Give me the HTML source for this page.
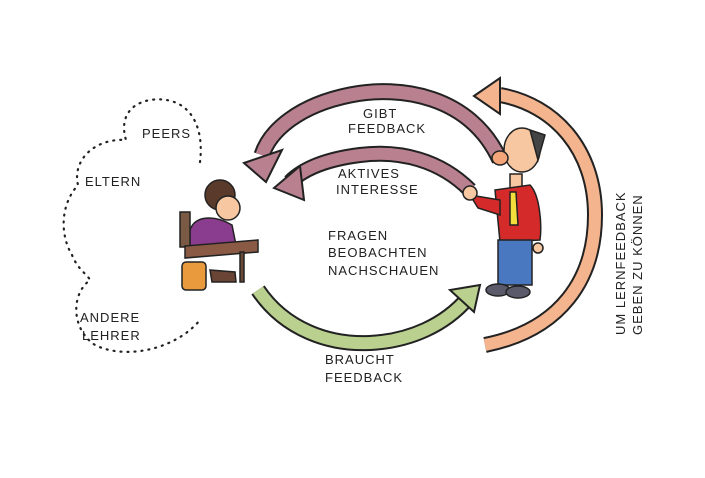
<!DOCTYPE html>
<html><head><meta charset="utf-8"><style>
html,body{margin:0;padding:0;background:#fff;}
svg{display:block;}
text{font-family:"Liberation Sans",sans-serif;font-size:13px;fill:#222;letter-spacing:1px;}
</style></head><body>
<svg width="705" height="478" viewBox="0 0 705 478" xmlns="http://www.w3.org/2000/svg">
<rect width="705" height="478" fill="#fff"/>
<!-- dotted cloud -->
<path d="M200,162 C205,120 185,95 150,100 C128,104 120,120 126,140 C95,138 72,160 78,185 C60,205 60,235 72,255 C78,270 88,275 90,280 C70,295 72,330 95,345 C125,360 175,350 200,320" fill="none" stroke="#222" stroke-width="2.2" stroke-dasharray="1 6" stroke-linecap="round"/>
<!-- pink big arrow -->
<path d="M500,160 C470,95 400,85 350,95 C300,105 270,130 262,155" fill="none" stroke="#222" stroke-width="17"/>
<path d="M500,160 C470,95 400,85 350,95 C300,105 270,130 262,155" fill="none" stroke="#b9818f" stroke-width="13"/>
<polygon points="244,163 282,150 266,182" fill="#b9818f" stroke="#222" stroke-width="2"/>
<!-- pink small arrow -->
<path d="M470,190 C440,160 400,150 360,155 C320,160 300,172 290,182" fill="none" stroke="#222" stroke-width="16"/>
<path d="M470,190 C440,160 400,150 360,155 C320,160 300,172 290,182" fill="none" stroke="#b9818f" stroke-width="12"/>
<polygon points="274,188 300,166 304,200" fill="#b9818f" stroke="#222" stroke-width="2"/>
<!-- green arrow -->
<path d="M258,290 C285,330 330,345 370,343 C410,341 445,325 468,298" fill="none" stroke="#222" stroke-width="16"/>
<path d="M258,290 C285,330 330,345 370,343 C410,341 445,325 468,298" fill="none" stroke="#b9d08e" stroke-width="12"/>
<polygon points="480,285 450,290 474,312" fill="#b9d08e" stroke="#222" stroke-width="2"/>
<!-- orange arrow -->
<path d="M485,345 C560,330 595,280 595,215 C595,150 555,105 500,95" fill="none" stroke="#222" stroke-width="16"/>
<path d="M485,345 C560,330 595,280 595,215 C595,150 555,105 500,95" fill="none" stroke="#f4b48e" stroke-width="12"/>
<polygon points="474,96 500,78 500,114" fill="#f4b48e" stroke="#222" stroke-width="2"/>
<!-- student -->
<g stroke="#222" stroke-width="1.5">
<circle cx="220" cy="195" r="15" fill="#5a3a2a"/>
<ellipse cx="228" cy="208" rx="12" ry="12" fill="#f6c7a0"/>
<path d="M190,230 C195,215 215,215 232,225 L236,245 L190,248 Z" fill="#8a3c8e"/>
<rect x="180" y="212" width="10" height="35" fill="#7a5a45"/>
<polygon points="185,246 258,240 258,252 185,258" fill="#8a5a45"/>
<rect x="240" y="252" width="4" height="30" fill="#6a4a35"/>
<rect x="182" y="262" width="24" height="28" rx="4" fill="#e89a3c"/>
<path d="M210,270 L235,272 L236,282 L212,282 Z" fill="#6a4535"/>
</g>
<!-- teacher -->
<g stroke="#222" stroke-width="1.5">
<ellipse cx="522" cy="150" rx="18" ry="22" fill="#f6c7a0"/>
<path d="M530,130 L545,135 L538,160 Z" fill="#444"/>
<ellipse cx="500" cy="158" rx="8" ry="7" fill="#f4a57a"/>
<rect x="510" y="174" width="12" height="16" fill="#f6c7a0"/>
<path d="M495,190 L530,185 C540,195 542,225 540,240 L500,242 Z" fill="#d42a2a"/>
<path d="M470,195 L500,200 L500,215 L478,208 Z" fill="#d42a2a"/>
<circle cx="470" cy="193" r="7" fill="#f6c7a0"/>
<polygon points="510,192 516,192 518,225 510,225" fill="#f4de3c"/>
<rect x="498" y="240" width="34" height="45" fill="#4a78c0"/>
<ellipse cx="498" cy="290" rx="12" ry="6" fill="#5a5a6a"/>
<ellipse cx="518" cy="292" rx="12" ry="6" fill="#5a5a6a"/>
<circle cx="538" cy="248" r="5" fill="#f6c7a0"/>
</g>
<!-- labels -->
<text x="363" y="118">GIBT</text>
<text x="348" y="133">FEEDBACK</text>
<text x="338" y="178">AKTIVES</text>
<text x="336" y="194">INTERESSE</text>
<text x="328" y="240">FRAGEN</text>
<text x="328" y="257">BEOBACHTEN</text>
<text x="328" y="275">NACHSCHAUEN</text>
<text x="325" y="364">BRAUCHT</text>
<text x="325" y="382">FEEDBACK</text>
<text x="142" y="138">PEERS</text>
<text x="85" y="186">ELTERN</text>
<text x="80" y="322">ANDERE</text>
<text x="82" y="340">LEHRER</text>
<text transform="translate(625,335) rotate(-90)">UM LERNFEEDBACK</text>
<text transform="translate(642,335) rotate(-90)">GEBEN ZU KÖNNEN</text>
</svg>
</body></html>
